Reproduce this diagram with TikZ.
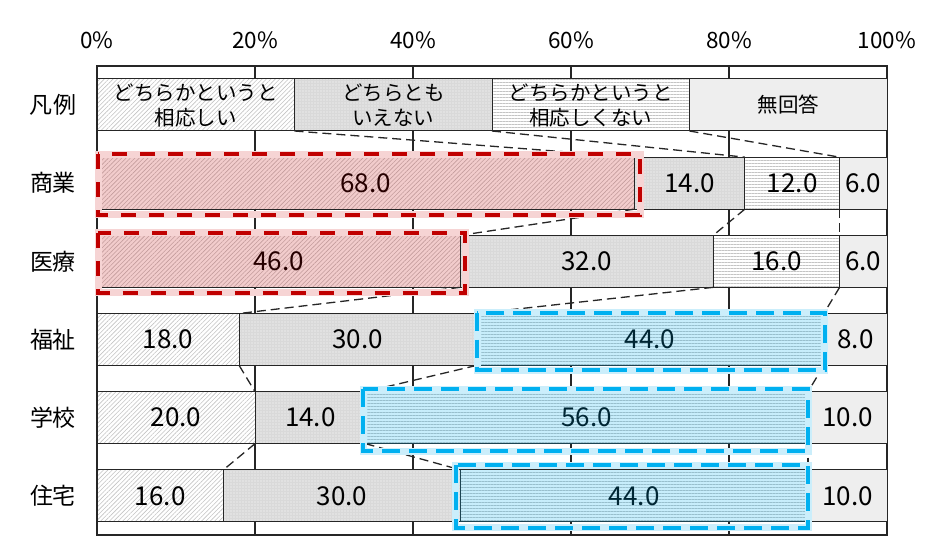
\documentclass[tikz,border=0pt]{standalone}
\usepackage{fontspec}
\setmainfont{Noto Sans CJK JP}
\usetikzlibrary{patterns.meta,calc}
\definecolor{redh}{HTML}{C00000}
\definecolor{blueh}{HTML}{00B0F0}
\definecolor{dotgray}{HTML}{D9D9D9}
\definecolor{lightg}{HTML}{EEEEEE}
\definecolor{hatchc}{HTML}{C4C4C4}
\definecolor{framec}{HTML}{262626}
\definecolor{redhalo}{HTML}{F6D4D4}
\definecolor{bluehalo}{HTML}{CBEEFB}
\tikzset{
  seg/.style={draw=framec, line width=1pt, inner sep=0pt, outer sep=0pt,
    minimum height=52pt, anchor=west, font=\fontsize{26}{26}\selectfont, text=black},
  segA/.style={seg, preaction={fill=white},
    pattern={Lines[angle=45,distance=3.1pt,line width=0.6pt]}, pattern color=hatchc},
  segB/.style={seg, preaction={fill=dotgray},
    pattern={Dots[distance=3pt,radius=0.55pt]}, pattern color=white},
  segC/.style={seg, preaction={fill=white},
    pattern={Lines[angle=0,distance=3pt,line width=0.5pt]}, pattern color=hatchc},
  segD/.style={seg, fill=lightg},
  legtext/.style={font=\fontsize{20.5}{25}\selectfont, align=center},
  cat/.style={font=\fontsize{23}{23}\selectfont, inner sep=0pt},
  tick/.style={font=\fontsize{22.5}{22.5}\selectfont, inner sep=0pt},
  conn/.style={draw=black!85, line width=1.3pt, dash pattern=on 9pt off 5pt},
  gridl/.style={draw=framec, line width=1.1pt},
  redover/.style={fill=redh, fill opacity=0.2},
  blueover/.style={fill=blueh, fill opacity=0.22},
  redhal/.style={draw=redhalo, line width=7pt},
  redbox/.style={draw=redh, line width=4pt, dash pattern=on 15pt off 13pt},
  bluehal/.style={draw=bluehalo, line width=7pt},
  bluebox/.style={draw=blueh, line width=4pt, dash pattern=on 18pt off 9pt},
}
\begin{document}
\begin{tikzpicture}[x=1pt,y=-1pt]
\useasboundingbox (0,0) rectangle (932,556);
\fill[white] (0,0) rectangle (932,556);
% grid
\foreach \p in {20,40,60,80}{
  \draw[gridl] ({97+7.9*\p},66) -- ({97+7.9*\p},535);
}
\draw[draw=framec, line width=1.4pt] (97,66) rectangle (887,535);
% ticks
\foreach \p [count=\t from 0] in {0,20,40,60,80,100}{
  \node[tick] (t\t) at ({97+7.9*\p},40) {\p\%};
}
% legend row
\node[cat] (c-0) at (53,105) {凡\hspace{2pt}例};
\node[segA, minimum width=197.5pt] (s-0-1) at (97,105) {};
\node[segB, minimum width=197.5pt] (s-0-2) at (294.5,105) {};
\node[segC, minimum width=197.5pt] (s-0-3) at (492,105) {};
\node[segD, minimum width=197.5pt] (s-0-4) at (689.5,105) {};
\node[legtext] (l1) at (s-0-1.center) {どちらかというと\\相応しい};
\node[legtext] (l2) at (s-0-2.center) {どちらとも\\いえない};
\node[legtext] (l3) at (s-0-3.center) {どちらかというと\\相応しくない};
\node[legtext] (l4) at (s-0-4.center) {無回答};
% data rows
\foreach \nm/\a/\b/\c/\d [count=\i] in {商業/68/14/12/6,医療/46/32/16/6,福祉/18/30/44/8,学校/20/14/56/10,住宅/16/30/44/10}{
  \pgfmathsetmacro\yc{105+78.17*\i}
  \pgfmathsetmacro\xa{97+7.9*\a}
  \pgfmathsetmacro\xb{\xa+7.9*\b}
  \pgfmathsetmacro\xc{\xb+7.9*\c}
  \node[cat] (c-\i) at (53,\yc) {\nm};
  \node[segA, minimum width=7.9pt*\a] (s-\i-1) at (97,\yc) {\a.0};
  \node[segB, minimum width=7.9pt*\b] (s-\i-2) at (\xa,\yc) {\b.0};
  \node[segC, minimum width=7.9pt*\c] (s-\i-3) at (\xb,\yc) {\c.0};
  \node[segD, minimum width=7.9pt*\d] (s-\i-4) at (\xc,\yc) {\d.0};
}
% connectors
\foreach \i in {0,...,4}{
  \pgfmathtruncatemacro\j{\i+1}
  \foreach \k in {1,2,3}{
    \draw[conn] (s-\i-\k.south east) -- (s-\j-\k.north east);
  }
}
% overlays
\fill[redover] (s-1-1.north west) rectangle (s-1-1.south east);
\fill[redover] (s-2-1.north west) rectangle (s-2-1.south east);
\fill[blueover] (s-3-3.north west) rectangle (s-3-3.south east);
\fill[blueover] (s-4-3.north west) rectangle (s-4-3.south east);
\fill[blueover] (s-5-3.north west) rectangle (s-5-3.south east);
% highlight boxes
\draw[redhal] (98,154.3) rectangle (640,215);
\draw[redhal] (98,233) rectangle (465,292.5);
\draw[bluehal] (477,312.5) rectangle (824.7,370);
\draw[bluehal] (363,389) rectangle (808,451);
\draw[bluehal] (455.5,465) rectangle (808,527.5);
\draw[redbox] (98,154.3) rectangle (640,215);
\draw[redbox] (98,233) rectangle (465,292.5);
\draw[bluebox] (477,312.5) rectangle (824.7,370);
\draw[bluebox] (363,389) rectangle (808,451);
\draw[bluebox] (455.5,465) rectangle (808,527.5);
\end{tikzpicture}
\end{document}
